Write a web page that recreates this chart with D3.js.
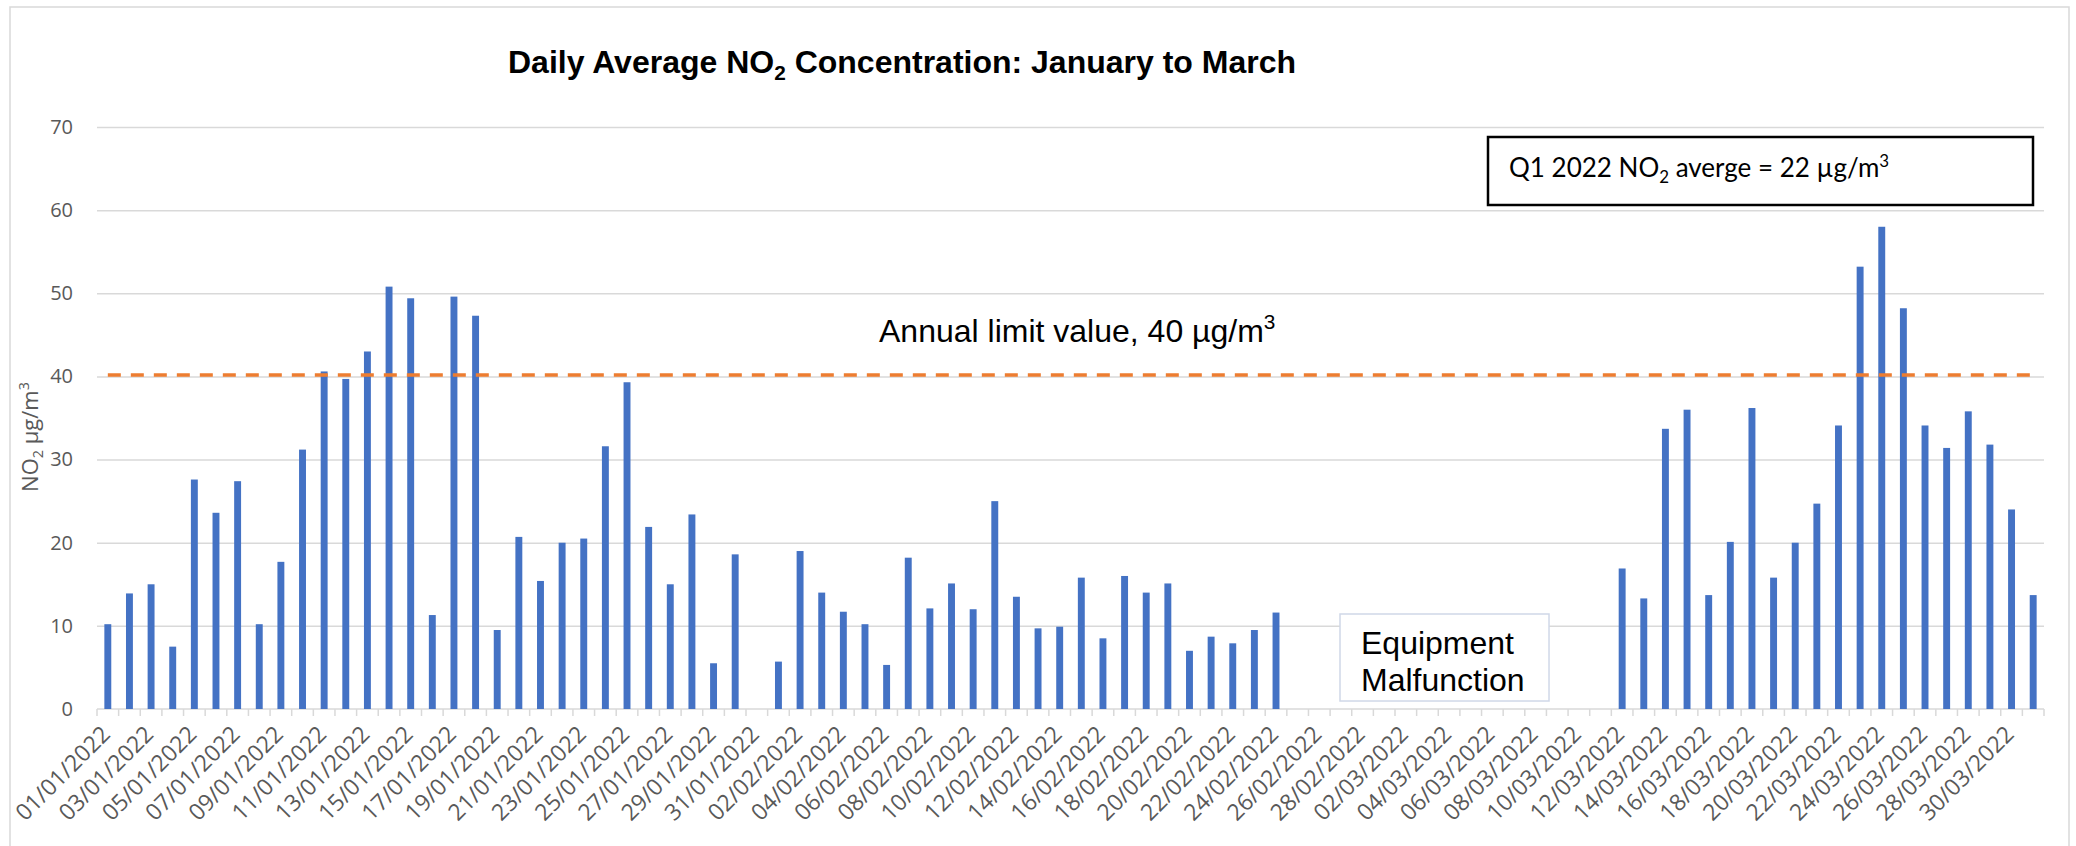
<!DOCTYPE html>
<html>
<head>
<meta charset="utf-8">
<script src="https://cdn.jsdelivr.net/npm/d3@7"></script>
<style>
  body { margin: 0; background: #fff; }
  text { font-family: "Open Sans", sans-serif; }
</style>
</head>
<body>
<div id="graph"></div>
<script>
// daily NO2 values, one array per month (null = no data)
var janValues = [10.2, 13.9, 15.0, 7.5, 27.6, 23.6, 27.4, 10.2, 17.7, 31.2,
  40.6, 39.7, 43.0, 50.8, 49.4, 11.3, 49.6, 47.3, 9.5, 20.7,
  15.4, 20.0, 20.5, 31.6, 39.3, 21.9, 15.0, 23.4, 5.5, 18.6, null];
var febValues = [5.7, 19.0, 14.0, 11.7, 10.2, 5.3, 18.2, 12.1, 15.1, 12.0,
  25.0, 13.5, 9.7, 9.9, 15.8, 8.5, 16.0, 14.0, 15.1, 7.0,
  8.7, 7.9, 9.5, 11.6, null, null, null, null];
var marValues = [null, null, null, null, null, null, null, null, null, null,
  null, 16.9, 13.3, 33.7, 36.0, 13.7, 20.1, 36.2, 15.8, 20.0,
  24.7, 34.1, 53.2, 58.0, 48.2, 34.1, 31.4, 35.8, 31.8, 24.0, 13.7];
var limitValue = 40;
var yTicks = [0, 10, 20, 30, 40, 50, 60, 70];

// categories: every day of Q1 2022
var days = d3.timeDay.range(new Date(2022, 0, 1), new Date(2022, 3, 1));
var fmt = d3.timeFormat("%d/%m/%Y");
var labels = days.map(fmt);
var values = janValues.concat(febValues, marValues);
var data = labels.map(function(l, i) { return {date: l, value: values[i]}; });

var svg = d3.select('#graph').append("svg")
  .attr('width', 2076)
  .attr('height', 846);

// outer chart border
svg.append("rect")
  .attr("x", 10).attr("y", 7)
  .attr("width", 2059).attr("height", 860)
  .attr("fill", "none")
  .attr("stroke", "#d9d9d9")
  .attr("stroke-width", 1.5);

var plotLeft = 97, plotRight = 2044, plotTop = 127, plotBottom = 709;

var x = d3.scaleBand().domain(labels).range([plotLeft, plotRight])
  .paddingInner(0.68).paddingOuter(0.34);
var y = d3.scaleLinear().domain([0, 70]).range([plotBottom, plotTop]);

// gridlines + y labels
var yAxis = svg.append("g")
  .attr("transform", "translate(" + plotLeft + ",0)")
  .call(d3.axisLeft(y).tickValues(yTicks).tickSize(-(plotRight - plotLeft)).tickPadding(24));
yAxis.select(".domain").remove();
yAxis.selectAll("line").attr("stroke", "#d9d9d9").attr("stroke-width", 1.5);
yAxis.selectAll("text")
  .attr("fill", "#595959")
  .style("font-size", "20px")
  .style("font-family", "'Open Sans', sans-serif");
yAxis.selectAll(".tick").filter(function(d) { return d === 0; }).select("line").remove();

// x axis line and ticks at band boundaries
svg.append("line")
  .attr("x1", plotLeft).attr("x2", plotRight)
  .attr("y1", plotBottom).attr("y2", plotBottom)
  .attr("stroke", "#d9d9d9").attr("stroke-width", 1.5);
svg.selectAll(".xtick")
  .data(d3.range(labels.length + 1))
  .enter().append("line")
  .attr("class", "xtick")
  .attr("x1", function(i) { return plotLeft + i * x.step(); })
  .attr("x2", function(i) { return plotLeft + i * x.step(); })
  .attr("y1", plotBottom).attr("y2", plotBottom + 7)
  .attr("stroke", "#d9d9d9").attr("stroke-width", 1.5);

// x labels, every second day
svg.selectAll(".xlabel")
  .data(labels.filter(function(d, i) { return i % 2 === 0; }))
  .enter().append("text")
  .attr("class", "xlabel")
  .attr("transform", function(d) {
    return "translate(" + (x(d) + x.bandwidth() / 2 - 2) + "," + (plotBottom + 21) + ") rotate(-45)";
  })
  .attr("text-anchor", "end")
  .attr("dy", "0.35em")
  .attr("fill", "#595959")
  .style("font-size", "23px")
  .text(function(d) { return d; });

// bars
svg.selectAll(".bar")
  .data(data.filter(function(d) { return d.value != null; }))
  .enter().append("rect")
  .attr("class", "bar")
  .attr("x", function(d) { return x(d.date); })
  .attr("width", x.bandwidth())
  .attr("y", function(d) { return y(d.value); })
  .attr("height", function(d) { return plotBottom - y(d.value); })
  .attr("fill", "#4472c4");

// annual limit line
var limitLine = d3.line()
  .x(function(d) { return x(d.date) + x.bandwidth() / 2; })
  .y(function(d) { return y(limitValue) - 1.5; });
svg.append("path")
  .datum(data)
  .attr("d", limitLine)
  .attr("fill", "none")
  .attr("stroke", "#ed7d31")
  .attr("stroke-width", 3.5)
  .attr("stroke-dasharray", "13,10");

// helper for text with sub/superscripts
function richText(sel, parts, size) {
  parts.forEach(function(p) {
    var t = sel.append("tspan").text(p[0]);
    if (p[1] === "sub") t.style("font-size", (size * 0.65) + "px").attr("dy", size * 0.22);
    else if (p[1] === "sup") t.style("font-size", (size * 0.65) + "px").attr("dy", -size * 0.4);
    else if (p[1] === "back") t.attr("dy", p[2] * size);
  });
}

// title
var title = svg.append("text")
  .attr("x", 902).attr("y", 73)
  .attr("text-anchor", "middle")
  .style("font-family", "'Liberation Sans', Arial, sans-serif")
  .style("font-weight", "bold")
  .style("font-size", "32px")
  .attr("fill", "#000");
richText(title, [["Daily Average NO"], ["2", "sub"], [" Concentration: January to March", "back", -0.22]], 32);

// y axis title
var yTitle = svg.append("text")
  .attr("transform", "translate(38,437) rotate(-90)")
  .attr("text-anchor", "middle")
  .attr("fill", "#595959")
  .style("font-size", "22px");
richText(yTitle, [["NO"], ["2", "sub"], [" µg/m", "back", -0.22], ["3", "sup"]], 22);

// limit annotation
var limitText = svg.append("text")
  .attr("x", 879).attr("y", 342)
  .style("font-family", "'Liberation Sans', Arial, sans-serif")
  .style("font-size", "32px")
  .attr("fill", "#000");
richText(limitText, [["Annual limit value, 40 µg/m"], ["3", "sup"]], 32);

// Q1 average box
svg.append("rect")
  .attr("x", 1488).attr("y", 137)
  .attr("width", 545).attr("height", 68)
  .attr("fill", "#fff")
  .attr("stroke", "#000")
  .attr("stroke-width", 2.5);
var avgText = svg.append("text")
  .attr("x", 1509).attr("y", 177)
  .style("font-family", "Lato, sans-serif")
  .style("font-size", "26px")
  .attr("fill", "#000");
richText(avgText, [["Q1 2022 NO"], ["2", "sub"], [" averge = 22 µg/m", "back", -0.22], ["3", "sup"]], 26);

// equipment malfunction box
svg.append("rect")
  .attr("x", 1340).attr("y", 614)
  .attr("width", 209).attr("height", 87)
  .attr("fill", "#fff")
  .attr("stroke", "#d0d8e8")
  .attr("stroke-width", 1.5);
svg.append("text")
  .attr("x", 1361).attr("y", 654)
  .style("font-family", "'Liberation Sans', Arial, sans-serif")
  .style("font-size", "32px")
  .attr("fill", "#000")
  .text("Equipment");
svg.append("text")
  .attr("x", 1361).attr("y", 691)
  .style("font-family", "'Liberation Sans', Arial, sans-serif")
  .style("font-size", "32px")
  .attr("fill", "#000")
  .text("Malfunction");
</script>
</body>
</html>
